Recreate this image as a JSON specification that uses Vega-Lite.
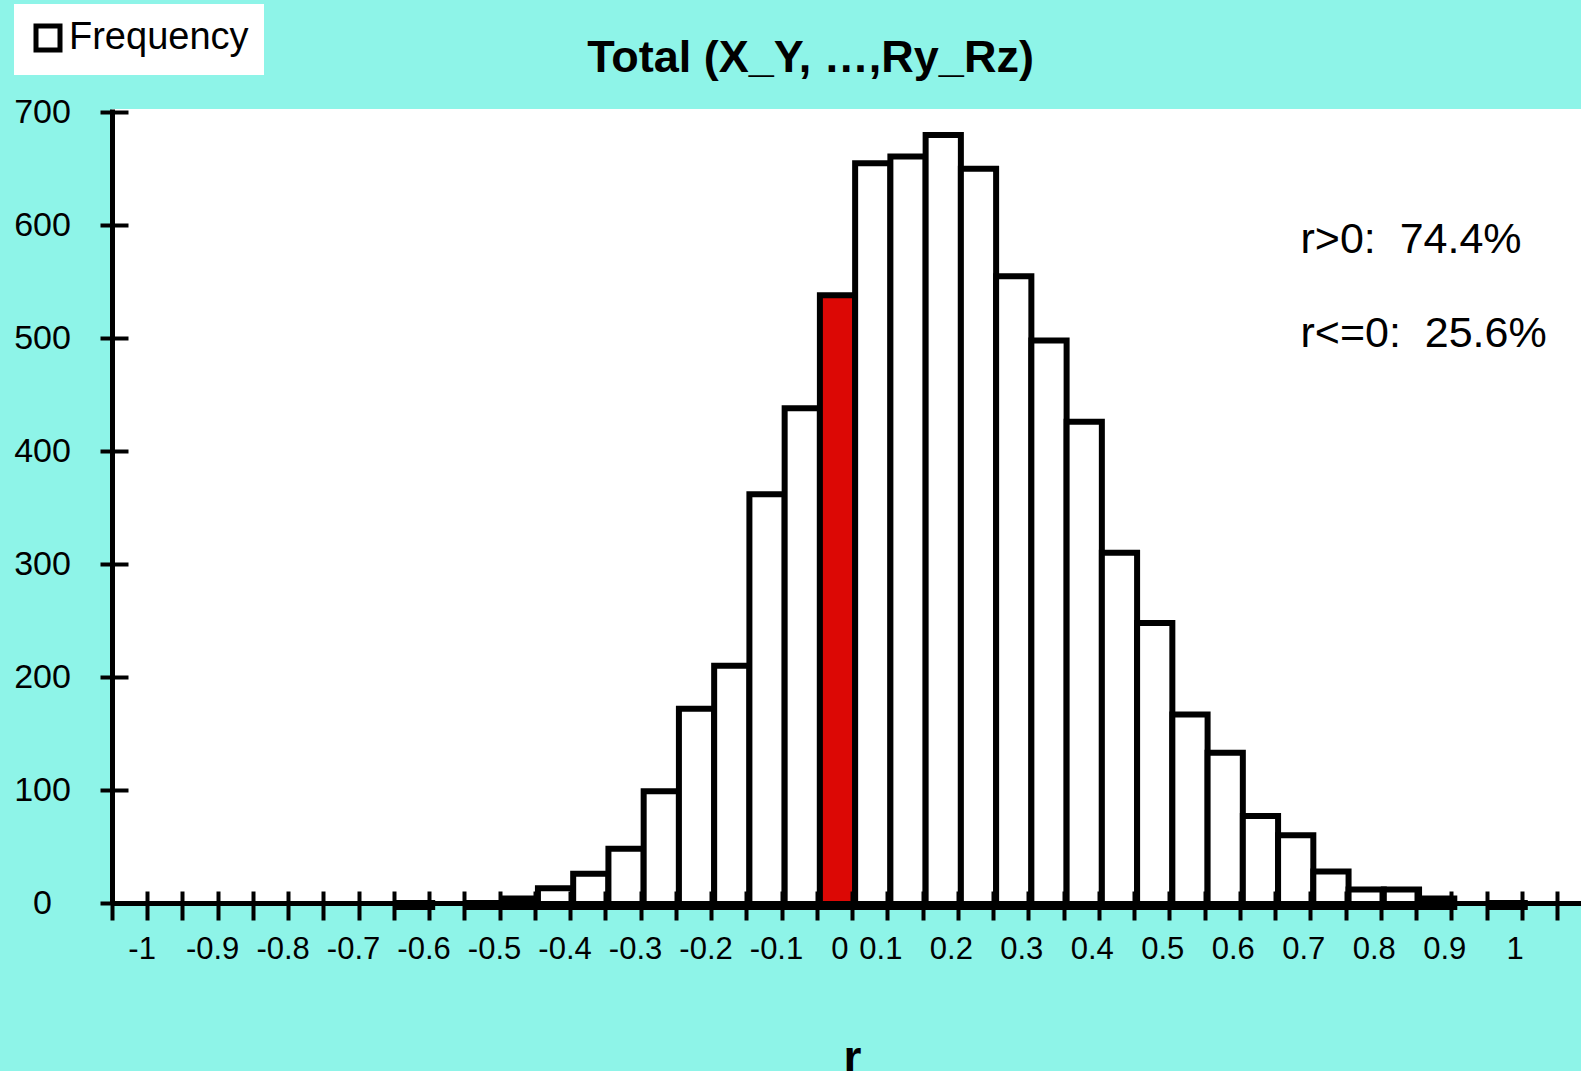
{
  "$schema": "https://vega.github.io/schema/vega-lite/v6.json",
  "width": 1469,
  "height": 794,
  "autosize": {"type": "none"},
  "padding": {"left": 112, "top": 109, "right": 0, "bottom": 168},
  "background": "#8EF4E8",
  "view": {"fill": "white", "stroke": null},
  "config": {"font": "Liberation Sans"},
  "title": {
    "text": "Total (X_Y, …,Ry_Rz)",
    "fontSize": 45,
    "font": "Liberation Sans",
    "fontWeight": "bold",
    "color": "black",
    "anchor": "middle",
    "baseline": "alphabetic",
    "dx": -36,
    "offset": -113
  },
  "layer": [
    {
      "data": {
        "values": [
          {"r_lo": -0.65, "r_hi": -0.6, "count": 0, "series": "Frequency"},
          {"r_lo": -0.55, "r_hi": -0.5, "count": 0, "series": "Frequency"},
          {"r_lo": -0.5, "r_hi": -0.45, "count": 4, "series": "Frequency"},
          {"r_lo": -0.45, "r_hi": -0.4, "count": 13, "series": "Frequency"},
          {"r_lo": -0.4, "r_hi": -0.35, "count": 26, "series": "Frequency"},
          {"r_lo": -0.35, "r_hi": -0.3, "count": 48, "series": "Frequency"},
          {"r_lo": -0.3, "r_hi": -0.25, "count": 99, "series": "Frequency"},
          {"r_lo": -0.25, "r_hi": -0.2, "count": 172, "series": "Frequency"},
          {"r_lo": -0.2, "r_hi": -0.15, "count": 210, "series": "Frequency"},
          {"r_lo": -0.15, "r_hi": -0.1, "count": 362, "series": "Frequency"},
          {"r_lo": -0.1, "r_hi": -0.05, "count": 438, "series": "Frequency"},
          {"r_lo": -0.05, "r_hi": 0, "count": 538, "series": "zero bin"},
          {"r_lo": 0, "r_hi": 0.05, "count": 655, "series": "Frequency"},
          {"r_lo": 0.05, "r_hi": 0.1, "count": 661, "series": "Frequency"},
          {"r_lo": 0.1, "r_hi": 0.15, "count": 680, "series": "Frequency"},
          {"r_lo": 0.15, "r_hi": 0.2, "count": 650, "series": "Frequency"},
          {"r_lo": 0.2, "r_hi": 0.25, "count": 555, "series": "Frequency"},
          {"r_lo": 0.25, "r_hi": 0.3, "count": 498, "series": "Frequency"},
          {"r_lo": 0.3, "r_hi": 0.35, "count": 426, "series": "Frequency"},
          {"r_lo": 0.35, "r_hi": 0.4, "count": 310, "series": "Frequency"},
          {"r_lo": 0.4, "r_hi": 0.45, "count": 248, "series": "Frequency"},
          {"r_lo": 0.45, "r_hi": 0.5, "count": 167, "series": "Frequency"},
          {"r_lo": 0.5, "r_hi": 0.55, "count": 133, "series": "Frequency"},
          {"r_lo": 0.55, "r_hi": 0.6, "count": 77, "series": "Frequency"},
          {"r_lo": 0.6, "r_hi": 0.65, "count": 60, "series": "Frequency"},
          {"r_lo": 0.65, "r_hi": 0.7, "count": 28, "series": "Frequency"},
          {"r_lo": 0.7, "r_hi": 0.75, "count": 12, "series": "Frequency"},
          {"r_lo": 0.75, "r_hi": 0.8, "count": 12, "series": "Frequency"},
          {"r_lo": 0.8, "r_hi": 0.85, "count": 4, "series": "Frequency"},
          {"r_lo": 0.9, "r_hi": 0.95, "count": 0, "series": "Frequency"}
        ]
      },
      "mark": {"type": "bar", "stroke": "black", "strokeWidth": 6, "xOffset": 3, "x2Offset": 3, "y2Offset": 4},
      "encoding": {
        "x": {
          "field": "r_lo", "type": "quantitative",
          "scale": {"domain": [-1.05, 1.034], "nice": false, "zero": false},
          "axis": {
            "orient": "bottom",
            "values": [-1.008, -0.908, -0.808, -0.708, -0.608, -0.508, -0.408, -0.308, -0.208, -0.108, -0.018, 0.04, 0.14, 0.24, 0.34, 0.44, 0.54, 0.64, 0.74, 0.84, 0.94],
            "labelExpr": "datum.value < 0.02 ? (datum.value < -0.05 ? '-' + toString(-round(datum.value * 10) / 10) : '0') : toString(round((datum.value + 0.06) * 10) / 10)",
            "ticks": false, "tickSize": 0,
            "domain": true, "domainColor": "black", "domainWidth": 5,
            "labelFontSize": 31, "labelColor": "black", "labelPadding": 31,
            "labelFlush": false, "labelOverlap": false, "labelBound": false,
            "grid": false,
            "title": "r", "titleFontSize": 46, "titleFontWeight": "bold", "titleColor": "black",
            "titleX": 740, "titleY": 169, "titleBaseline": "alphabetic", "titleAlign": "center",
            "zindex": 1
          }
        },
        "x2": {"field": "r_hi"},
        "y": {
          "field": "count", "type": "quantitative",
          "scale": {"domain": [0, 703], "nice": false},
          "axis": {
            "orient": "left",
            "values": [0, 100, 200, 300, 400, 500, 600, 700],
            "tickSize": 12, "tickWidth": 4, "tickColor": "black",
            "domainColor": "black", "domainWidth": 5,
            "labelFontSize": 34, "labelAlign": "center", "labelPadding": 58, "labelColor": "black",
            "grid": false, "title": null, "zindex": 1
          }
        },
        "y2": {"datum": 0},
        "fill": {
          "field": "series", "type": "nominal",
          "scale": {"domain": ["Frequency", "zero bin"], "range": ["white", "#DC0805"]},
          "legend": {
            "values": ["Frequency"],
            "orient": "none", "legendX": -98, "legendY": -105,
            "title": null, "fillColor": "white", "padding": 15,
            "symbolType": "square", "symbolSize": 576,
            "symbolStrokeColor": "black", "symbolStrokeWidth": 5,
            "labelFontSize": 38, "labelColor": "black", "labelOffset": 2, "labelLimit": 400,
            "labelFont": "Liberation Sans"
          }
        }
      }
    },
    {
      "data": {"values": [{}]},
      "mark": {"type": "text", "align": "left", "baseline": "alphabetic", "fontSize": 43, "font": "Liberation Sans", "color": "black"},
      "encoding": {
        "x": {
          "datum": 0.636, "type": "quantitative",
          "scale": {"domain": [-1.05, 1.034], "nice": false, "zero": false},
          "axis": {
            "orient": "bottom",
            "values": [-1.05, -1, -0.95, -0.9, -0.85, -0.8, -0.75, -0.7, -0.65, -0.6, -0.55, -0.5, -0.45, -0.4, -0.35, -0.3, -0.25, -0.2, -0.15, -0.1, -0.05, 0, 0.05, 0.1, 0.15, 0.2, 0.25, 0.3, 0.35, 0.4, 0.45, 0.5, 0.55, 0.6, 0.65, 0.7, 0.75, 0.8, 0.85, 0.9, 0.95, 1],
            "tickSize": 17, "tickWidth": 4, "tickColor": "black",
            "labels": false, "domain": false, "grid": false, "title": null, "zindex": 1
          }
        },
        "y": {
          "datum": 575.5, "type": "quantitative",
          "scale": {"domain": [0, 703], "nice": false},
          "axis": {
            "orient": "left",
            "values": [0, 100, 200, 300, 400, 500, 600, 700],
            "tickSize": -16, "tickWidth": 4, "tickColor": "black",
            "labels": false, "domain": false, "grid": false, "title": null, "zindex": 1
          }
        },
        "text": {"value": "r>0:\u00a0\u00a074.4%"}
      }
    },
    {
      "data": {"values": [{}]},
      "mark": {"type": "text", "align": "left", "baseline": "alphabetic", "fontSize": 43, "font": "Liberation Sans", "color": "black"},
      "encoding": {
        "x": {
          "datum": 0.636, "type": "quantitative",
          "scale": {"domain": [-1.05, 1.034], "nice": false, "zero": false},
          "axis": {
            "orient": "bottom",
            "values": [-1.05, -1, -0.95, -0.9, -0.85, -0.8, -0.75, -0.7, -0.65, -0.6, -0.55, -0.5, -0.45, -0.4, -0.35, -0.3, -0.25, -0.2, -0.15, -0.1, -0.05, 0, 0.05, 0.1, 0.15, 0.2, 0.25, 0.3, 0.35, 0.4, 0.45, 0.5, 0.55, 0.6, 0.65, 0.7, 0.75, 0.8, 0.85, 0.9, 0.95, 1],
            "tickSize": -12, "tickWidth": 4, "tickColor": "black",
            "labels": false, "domain": false, "grid": false, "title": null, "zindex": 1
          }
        },
        "y": {
          "datum": 492.6, "type": "quantitative",
          "scale": {"domain": [0, 703], "nice": false},
          "axis": null
        },
        "text": {"value": "r<=0:\u00a0\u00a025.6%"}
      }
    }
  ],
  "resolve": {"axis": {"x": "independent", "y": "independent"}}
}
